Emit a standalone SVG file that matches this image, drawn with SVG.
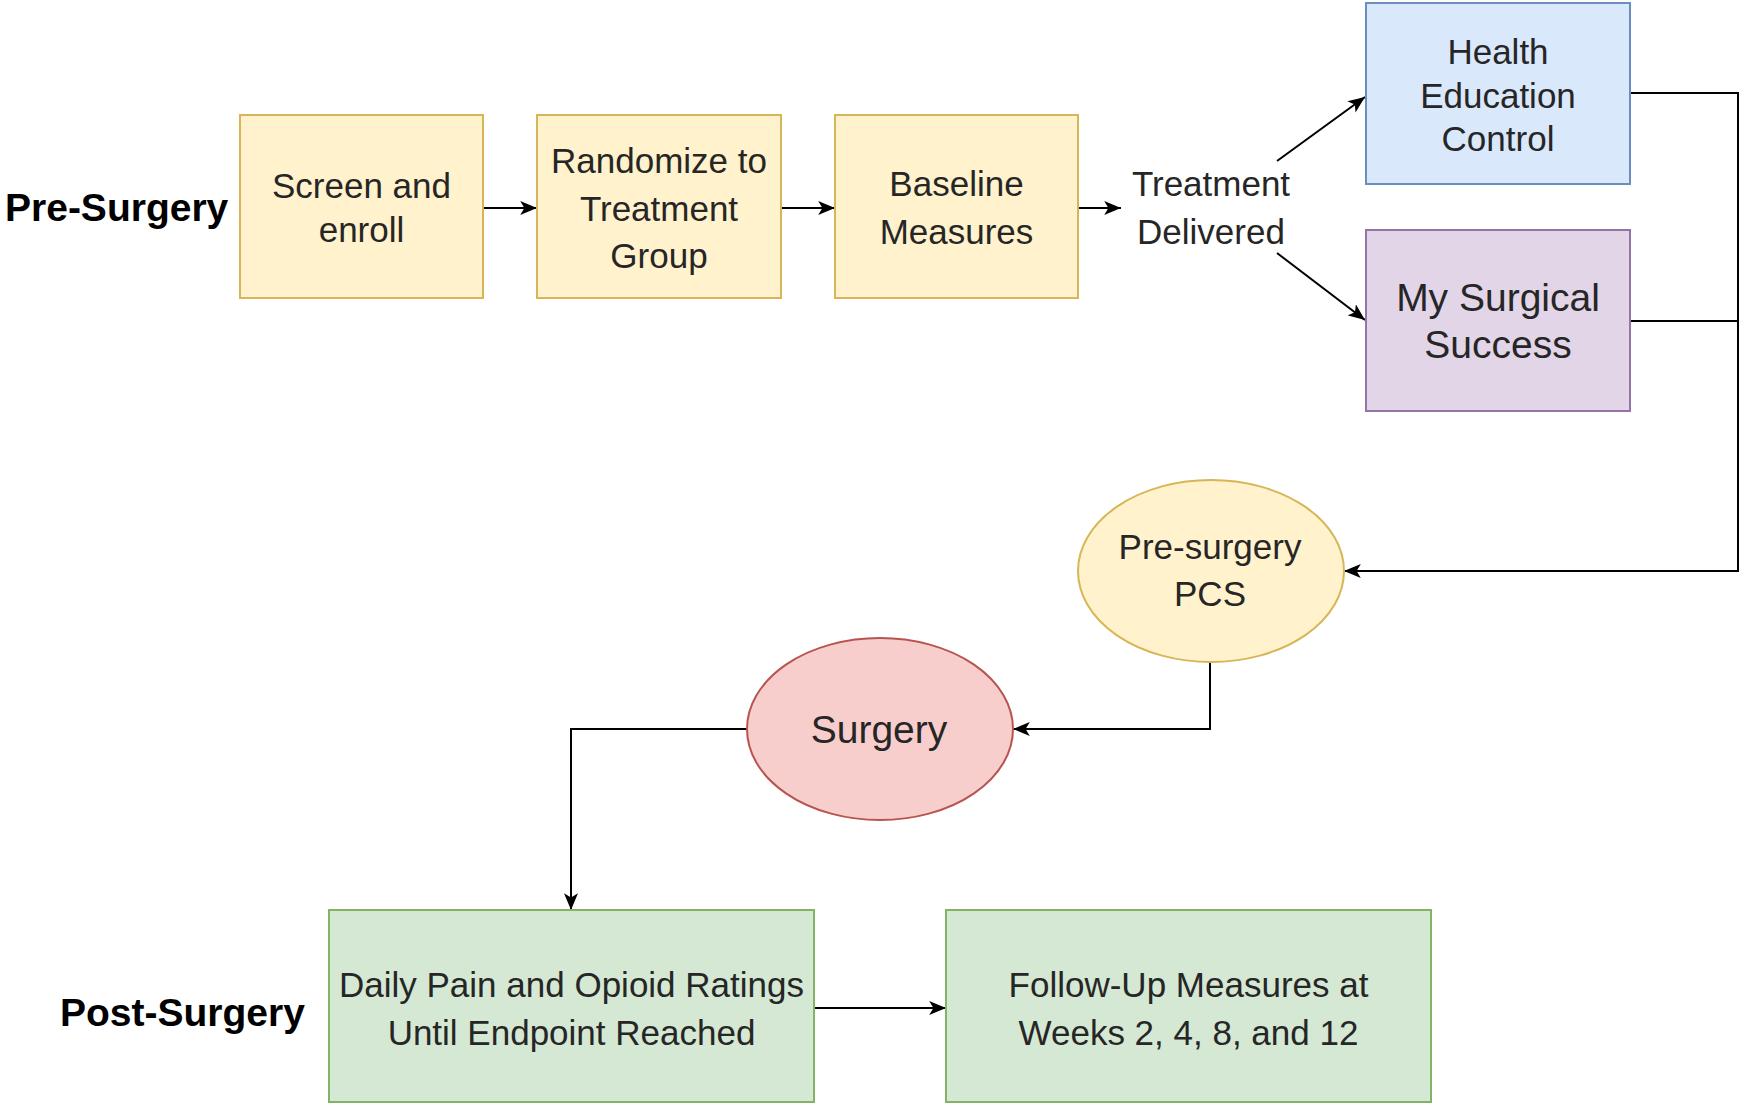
<svg xmlns="http://www.w3.org/2000/svg" width="1741" height="1104" viewBox="0 0 1741 1104">
<style>
text{font-family:"Liberation Sans",Arial,sans-serif;font-size:35px;fill:#262626;text-anchor:middle}
.big{font-size:39px}
.lbl{font-weight:bold;font-size:39px;fill:#000;text-anchor:start}
.y{fill:#fff2cc;stroke:#d6b656;stroke-width:2}
.b{fill:#dae8fc;stroke:#6c8ebf;stroke-width:2}
.p{fill:#e1d5e7;stroke:#9673a6;stroke-width:2}
.r{fill:#f8cecc;stroke:#b85450;stroke-width:2}
.g{fill:#d5e8d4;stroke:#82b366;stroke-width:2}
.c{fill:none;stroke:#000;stroke-width:2}
.a{marker-end:url(#arr)}
</style>
<defs>
<marker id="arr" viewBox="0 0 12 10" refX="12" refY="5" markerWidth="17" markerHeight="14" markerUnits="userSpaceOnUse" orient="auto">
<path d="M0,0 L12,5 L0,10 L3,5 Z" fill="#000"/>
</marker>
</defs>
<rect width="1741" height="1104" fill="#fff"/>
<g id="connectors">
<path class="c a" d="M483,208 H537"/>
<path class="c a" d="M781,208 H835"/>
<path class="c a" d="M1078,208 H1121"/>
<path class="c a" d="M1277,161 L1365,97"/>
<path class="c a" d="M1277,253 L1365,320"/>
<path class="c a" d="M1630,93 H1738 V571 H1344"/>
<path class="c" d="M1630,321 H1738"/>
<path class="c a" d="M1210,662 V729 H1013"/>
<path class="c a" d="M747,729 H571 V910"/>
<path class="c a" d="M814,1008 H946"/>
</g>
<g id="label-pre"><text class="lbl" x="5" y="221">Pre-Surgery</text></g>
<g id="label-post"><text class="lbl" x="60" y="1026">Post-Surgery</text></g>
<g id="screen">
<rect class="y" x="240" y="115" width="243" height="183"/>
<text x="361.5" y="198">Screen and</text>
<text x="361.5" y="242">enroll</text>
</g>
<g id="randomize">
<rect class="y" x="537" y="115" width="244" height="183"/>
<text x="659" y="173">Randomize to</text>
<text x="659" y="221">Treatment</text>
<text x="659" y="268">Group</text>
</g>
<g id="baseline">
<rect class="y" x="835" y="115" width="243" height="183"/>
<text x="956.5" y="196">Baseline</text>
<text x="956.5" y="244">Measures</text>
</g>
<g id="treatment-delivered">
<text x="1211" y="196">Treatment</text>
<text x="1211" y="244">Delivered</text>
</g>
<g id="health-education">
<rect class="b" x="1366" y="3" width="264" height="181"/>
<text x="1498" y="64">Health</text>
<text x="1498" y="108">Education</text>
<text x="1498" y="151">Control</text>
</g>
<g id="my-surgical-success">
<rect class="p" x="1366" y="230" width="264" height="181"/>
<text class="big" x="1498" y="311">My Surgical</text>
<text class="big" x="1498" y="358">Success</text>
</g>
<g id="pcs">
<ellipse class="y" cx="1211" cy="571" rx="133" ry="91"/>
<text x="1210" y="559">Pre-surgery</text>
<text x="1210" y="606">PCS</text>
</g>
<g id="surgery">
<ellipse class="r" cx="880" cy="729" rx="133" ry="91"/>
<text class="big" x="879" y="743">Surgery</text>
</g>
<g id="daily">
<rect class="g" x="329" y="910" width="485" height="192"/>
<text x="571.5" y="997">Daily Pain and Opioid Ratings</text>
<text x="571.5" y="1045">Until Endpoint Reached</text>
</g>
<g id="follow-up">
<rect class="g" x="946" y="910" width="485" height="192"/>
<text x="1188.5" y="997">Follow-Up Measures at</text>
<text x="1188.5" y="1045">Weeks 2, 4, 8, and 12</text>
</g>
</svg>
